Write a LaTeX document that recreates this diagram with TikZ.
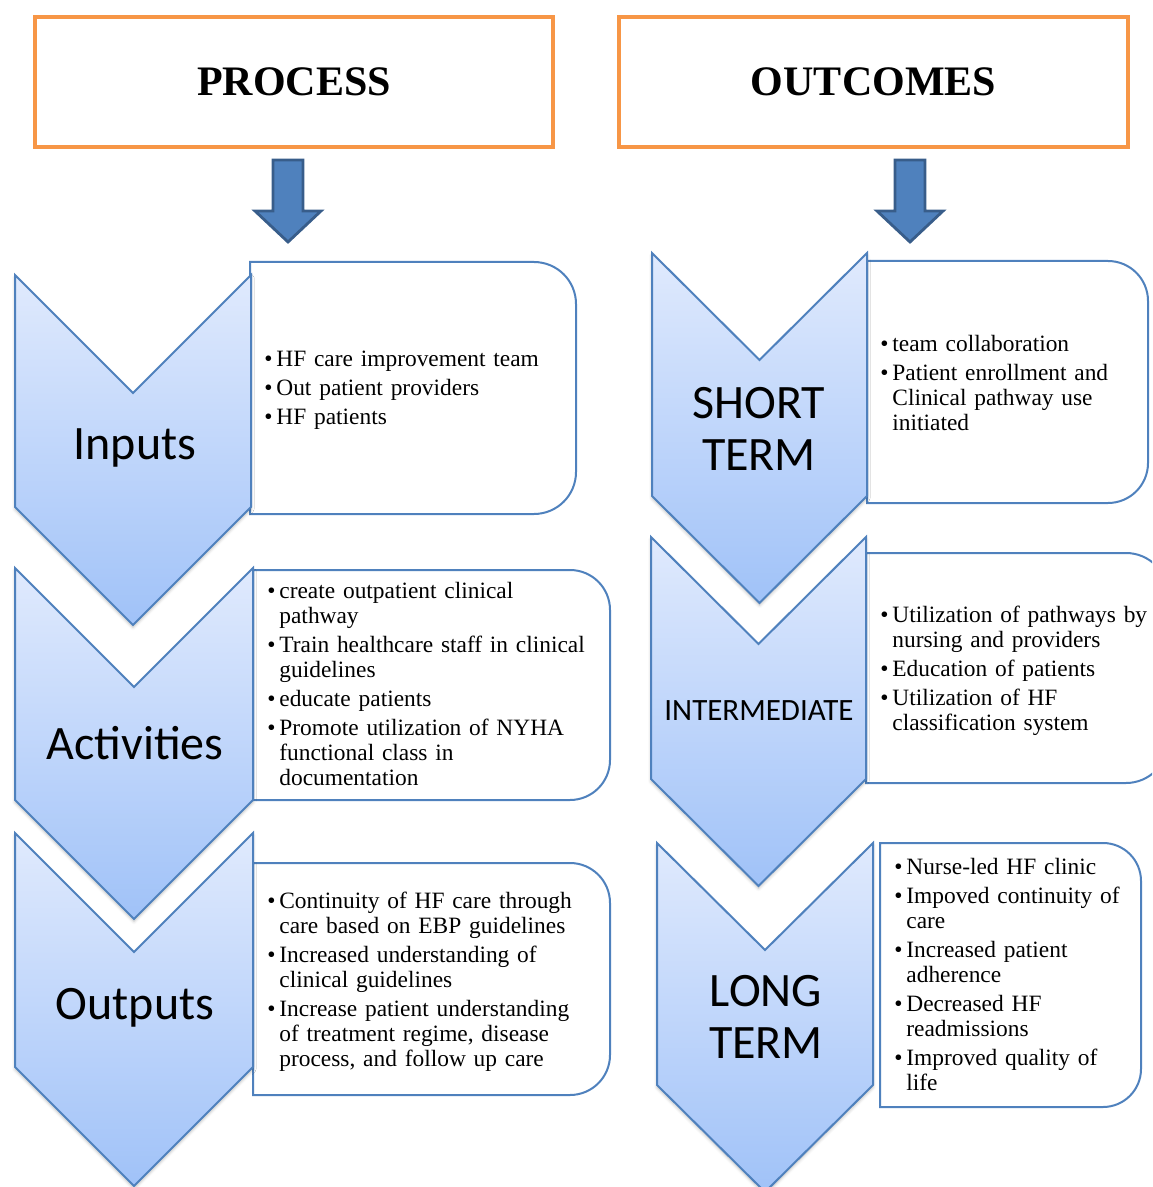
\documentclass[tikz,border=0pt]{standalone}
\usepackage{fontspec}
\setmainfont{Liberation Serif}
\newfontfamily\labelfont{Carlito}
\usetikzlibrary{shadows.blur}

\definecolor{accentblue}{HTML}{4F81BD}
\definecolor{darkblue}{HTML}{385D8A}
\definecolor{orangeline}{HTML}{F79646}
\definecolor{chevtop}{RGB}{224,234,253}
\definecolor{chevbottom}{RGB}{160,194,248}

\tikzset{
  titlebox/.style={draw=orangeline, line width=2pt, fill=white,
    minimum width=259pt, minimum height=65pt, inner sep=0pt,
    font=\fontsize{21}{25}\selectfont\bfseries},
  downarrow/.style={fill=accentblue, draw=darkblue, line width=1.4pt, line join=miter},
  chevron/.style={top color=chevtop, bottom color=chevbottom, draw=accentblue,
    line width=1pt, line join=miter,
    blur shadow={shadow xshift=0pt, shadow yshift=-1.2pt,
      shadow blur radius=1.5pt, shadow opacity=25}},
  stagelabel/.style={font=\labelfont\fontsize{24}{26}\selectfont, align=center, inner sep=0pt},
  textbox/.style={fill=white, draw=accentblue, line width=1pt},
  itemlist/.style={font=\fontsize{11.7}{12.5}\selectfont, text width=165pt,
    inner sep=0pt, anchor=west,
    execute at begin node={\raggedright\setlength{\parskip}{2pt}}},
}

% bullet item with hanging indent; lines inside an item are broken with \newline
\newcommand{\bitem}[1]{\par\hangindent=6pt\hangafter=1\noindent\makebox[6pt][l]{\textbullet}#1\par}

% box with square left corners and rounded right corners: left, top, right, bottom, radius
\newcommand{\rightroundbox}[5]{%
  \path[textbox] (#1,#2) -- ({#3-#5},#2)
    .. controls ({#3-0.448*#5},#2) and (#3,{#2+0.448*#5}) .. (#3,{#2+#5})
    -- (#3,{#4-#5})
    .. controls (#3,{#4-0.448*#5}) and ({#3-0.448*#5},#4) .. ({#3-#5},#4)
    -- (#1,#4) -- cycle;}

% downward chevron: left, right, top, bottom of the sides, point depth
\newcommand{\chevronshape}[5]{%
  \path[chevron] (#1,#3) -- ({(#1+#2)/2},{#3+#5}) -- (#2,#3) -- (#2,#4)
    -- ({(#1+#2)/2},{#4+#5}) -- (#1,#4) -- cycle;}

% block arrow pointing down, centred on x
\newcommand{\blockarrow}[1]{%
  \path[downarrow] ({#1-15},160) -- ({#1+15},160) -- ({#1+15},211) -- ({#1+33},211)
    -- (#1,242) -- ({#1-33},211) -- ({#1-15},211) -- cycle;}

\begin{document}
\begin{tikzpicture}[x=0.5pt, y=-0.5pt]
  \useasboundingbox (0,0) rectangle (1152,1187);
  \clip (0,0) rectangle (1152,1187);

  % headings
  \node[titlebox] (process) at (294,82) {PROCESS};
  \node[titlebox, minimum width=254.5pt] (outcomes) at (873.5,82) {OUTCOMES};
  \blockarrow{288}
  \blockarrow{910}

  % text boxes
  \rightroundbox{250}{262}{576}{514}{42}
  \rightroundbox{253}{570}{610}{800}{40}
  \rightroundbox{253}{863}{610}{1095}{40}
  \rightroundbox{867}{261}{1148}{503}{40}
  \rightroundbox{866}{553}{1168}{783}{42}
  \rightroundbox{880}{843}{1141}{1107}{38}

  % chevrons
  \chevronshape{15}{251}{275}{507}{118}
  \chevronshape{15}{253}{568}{800}{119}
  \chevronshape{15}{253}{833}{1067}{119}
  \chevronshape{652}{867}{253}{496}{107}
  \chevronshape{651}{866}{537}{779}{107}
  \chevronshape{657}{873}{843}{1085}{107}

  % stage labels
  \node[stagelabel] (inputs) at (135,448) {Inputs};
  \node[stagelabel] (activities) at (135,743) {Activities};
  \node[stagelabel] (outputs) at (135,1008) {Outputs};
  \node[stagelabel] (short) at (759,429) {SHORT\\TERM};
  \node[stagelabel, font=\labelfont\fontsize{15.5}{18}\selectfont] (inter) at (759,711) {INTERMEDIATE};
  \node[stagelabel] (long) at (766,1017) {LONG\\TERM};

  % item lists
  \node[itemlist] (inputlist) at (264,383) {%
    \bitem{HF care improvement team}
    \bitem{Out patient providers}
    \bitem{HF patients}};
  \node[itemlist] (activitylist) at (267,678) {%
    \bitem{create outpatient clinical\newline pathway}
    \bitem{Train healthcare staff in clinical\newline guidelines}
    \bitem{educate patients}
    \bitem{Promote utilization of NYHA\newline functional class in\newline documentation}};
  \node[itemlist] (outputlist) at (267,975) {%
    \bitem{Continuity of HF care through\newline care based on EBP guidelines}
    \bitem{Increased understanding of\newline clinical guidelines}
    \bitem{Increase patient understanding\newline of treatment regime, disease\newline process, and follow up care}};
  \node[itemlist] (shortlist) at (880,377) {%
    \bitem{team collaboration}
    \bitem{Patient enrollment and\newline Clinical pathway use\newline initiated}};
  \node[itemlist] (interlist) at (880,665) {%
    \bitem{Utilization of pathways by\newline nursing and providers}
    \bitem{Education of patients}
    \bitem{Utilization of HF\newline classification system}};
  \node[itemlist] (longlist) at (894,968) {%
    \bitem{Nurse-led HF clinic}
    \bitem{Impoved continuity of\newline care}
    \bitem{Increased patient\newline adherence}
    \bitem{Decreased HF\newline readmissions}
    \bitem{Improved quality of\newline life}};
\end{tikzpicture}
\end{document}
